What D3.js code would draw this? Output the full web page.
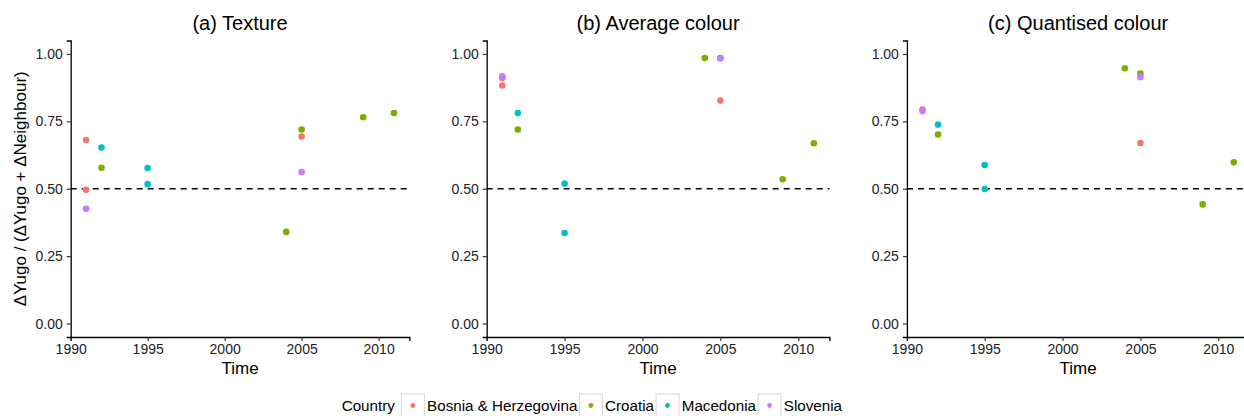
<!DOCTYPE html>
<html>
<head>
<meta charset="utf-8">
<script src="https://cdn.jsdelivr.net/npm/d3@7"></script>
<style>
  body { margin: 0; background: #fff; }
  svg { display: block; font-family: "Liberation Sans", Arial, Helvetica, sans-serif; }
</style>
</head>
<body>
<div id="chart"></div>
<script>

// ---- data ----

var countries = ["Bosnia & Herzegovina", "Croatia", "Macedonia", "Slovenia"];
var countryColours = ["#F8766D", "#7CAE00", "#00BFC4", "#C77CFF"];

var panelTitles = ["(a) Texture", "(b) Average colour", "(c) Quantised colour"];

// [country, year, value]
var textureData = [
	["Bosnia & Herzegovina", 1991, 0.681],
	["Bosnia & Herzegovina", 1991, 0.496],
	["Bosnia & Herzegovina", 2005, 0.694],
	["Croatia", 1992, 0.578],
	["Croatia", 2004, 0.340],
	["Croatia", 2005, 0.720],
	["Croatia", 2009, 0.765],
	["Croatia", 2011, 0.781],
	["Macedonia", 1992, 0.653],
	["Macedonia", 1995, 0.577],
	["Macedonia", 1995, 0.517],
	["Slovenia", 1991, 0.426],
	["Slovenia", 2005, 0.562]
];

var averageData = [
	["Bosnia & Herzegovina", 1991, 0.911],
	["Bosnia & Herzegovina", 1991, 0.883],
	["Bosnia & Herzegovina", 2005, 0.827],
	["Croatia", 1992, 0.720],
	["Croatia", 2004, 0.985],
	["Croatia", 2005, 0.985],
	["Croatia", 2009, 0.535],
	["Croatia", 2011, 0.669],
	["Macedonia", 1992, 0.781],
	["Macedonia", 1995, 0.519],
	["Macedonia", 1995, 0.336],
	["Slovenia", 1991, 0.917],
	["Slovenia", 2005, 0.983]
];

var quantisedData = [
	["Bosnia & Herzegovina", 1991, 0.794],
	["Bosnia & Herzegovina", 2005, 0.670],
	["Croatia", 1992, 0.701],
	["Croatia", 2004, 0.947],
	["Croatia", 2005, 0.927],
	["Croatia", 2009, 0.442],
	["Croatia", 2011, 0.598],
	["Macedonia", 1992, 0.738],
	["Macedonia", 1995, 0.588],
	["Macedonia", 1995, 0.499],
	["Slovenia", 1991, 0.788],
	["Slovenia", 2005, 0.914]
];

var panelData = [textureData, averageData, quantisedData];

var xTicks = [1990, 1995, 2000, 2005, 2010];
var yTicks = [0, 0.25, 0.5, 0.75, 1];
var refLine = 0.5;

// ---- layout ----

var totwidth = 1244,
	totheight = 416,
	plotWidth = 420,
	panelTop = 40.5,
	panelBottom = 337,
	rightPad = 10.6,
	leftPads = [70.7, 66.7, 66.9];

var colour = d3.scaleOrdinal().domain(countries).range(countryColours);

var y = d3.scaleLinear()
	.domain([-0.05, 1.05])
	.range([panelBottom, panelTop]);

var svg = d3.select("#chart").append("svg")
	.attr("width", totwidth)
	.attr("height", totheight);

panelData.forEach(function(data, i) {

	var x0 = i * plotWidth + leftPads[i],
		x1 = (i + 1) * plotWidth - rightPad;

	var x = d3.scaleLinear()
		.domain([1990, 2012])
		.range([x0, x1]);

	var g = svg.append("g").attr("class", "panel");

	// title
	g.append("text")
		.attr("x", (x0 + x1) / 2)
		.attr("y", 30)
		.attr("text-anchor", "middle")
		.style("font-size", "20px")
		.attr("fill", "#000")
		.text(panelTitles[i]);

	// dashed reference line
	g.append("line")
		.attr("x1", x0)
		.attr("x2", x1)
		.attr("y1", y(refLine))
		.attr("y2", y(refLine))
		.attr("stroke", "#000")
		.attr("stroke-width", 1.4)
		.attr("stroke-dasharray", "6,5");

	// axes
	var xAxis = g.append("g")
		.attr("transform", "translate(0," + panelBottom + ")")
		.call(d3.axisBottom(x).tickValues(xTicks).tickFormat(d3.format("d")).tickSizeOuter(0).tickSize(4).tickPadding(3));

	var yAxis = g.append("g")
		.attr("transform", "translate(" + x0 + ",0)")
		.call(d3.axisLeft(y).tickValues(yTicks).tickFormat(d3.format(".2f")).tickSizeOuter(0).tickSize(4).tickPadding(4));

	[xAxis, yAxis].forEach(function(ax) {
		ax.select(".domain").attr("stroke", "#000").attr("stroke-width", 1.3);
		ax.selectAll(".tick line").attr("stroke", "#333").attr("stroke-width", 1.2);
		ax.selectAll(".tick text")
			.attr("fill", "#222")
			.style("font-size", "14px")
			.style("font-family", "'Liberation Sans', Arial, Helvetica, sans-serif");
	});

	// axis titles
	g.append("text")
		.attr("x", (x0 + x1) / 2)
		.attr("y", 374)
		.attr("text-anchor", "middle")
		.style("font-size", "17px")
		.attr("fill", "#000")
		.text("Time");

	if (i === 0) {
		g.append("text")
			.attr("transform", "translate(26," + ((panelTop + panelBottom) / 2) + ") rotate(-90)")
			.attr("text-anchor", "middle")
			.style("font-size", "17px")
			.attr("fill", "#000")
			.text("\u0394Yugo / (\u0394Yugo + \u0394Neighbour)");
	}

	// points, drawn in country order
	g.append("g")
		.selectAll("circle")
		.data(data)
		.enter().append("circle")
			.attr("cx", function(d) { return x(d[1]); })
			.attr("cy", function(d) { return y(d[2]); })
			.attr("r", 3.3)
			.attr("fill", function(d) { return colour(d[0]); });
});

// ---- legend ----

var legend = svg.append("g").attr("class", "legend");
var legendMid = 405.5,
	keySize = 23,
	cursor = 341.7;

var ltitle = legend.append("text")
	.attr("x", cursor)
	.attr("y", legendMid)
	.attr("dy", "0.35em")
	.style("font-size", "15.2px")
	.attr("fill", "#000")
	.text("Country");
cursor += ltitle.node().getComputedTextLength() + 6.5;

countries.forEach(function(c) {
	legend.append("rect")
		.attr("x", cursor)
		.attr("y", legendMid - keySize / 2)
		.attr("width", keySize)
		.attr("height", keySize)
		.attr("fill", "#fff")
		.attr("stroke", "#d6d6d6")
		.attr("stroke-width", 1);
	legend.append("circle")
		.attr("cx", cursor + keySize / 2)
		.attr("cy", legendMid)
		.attr("r", 2.4)
		.attr("fill", colour(c));
	cursor += keySize + 2.7;
	var t = legend.append("text")
		.attr("x", cursor)
		.attr("y", legendMid)
		.attr("dy", "0.35em")
		.style("font-size", "15.2px")
		.attr("fill", "#000")
		.text(c);
	cursor += t.node().getComputedTextLength() + 2;
});

</script>
</body>
</html>
